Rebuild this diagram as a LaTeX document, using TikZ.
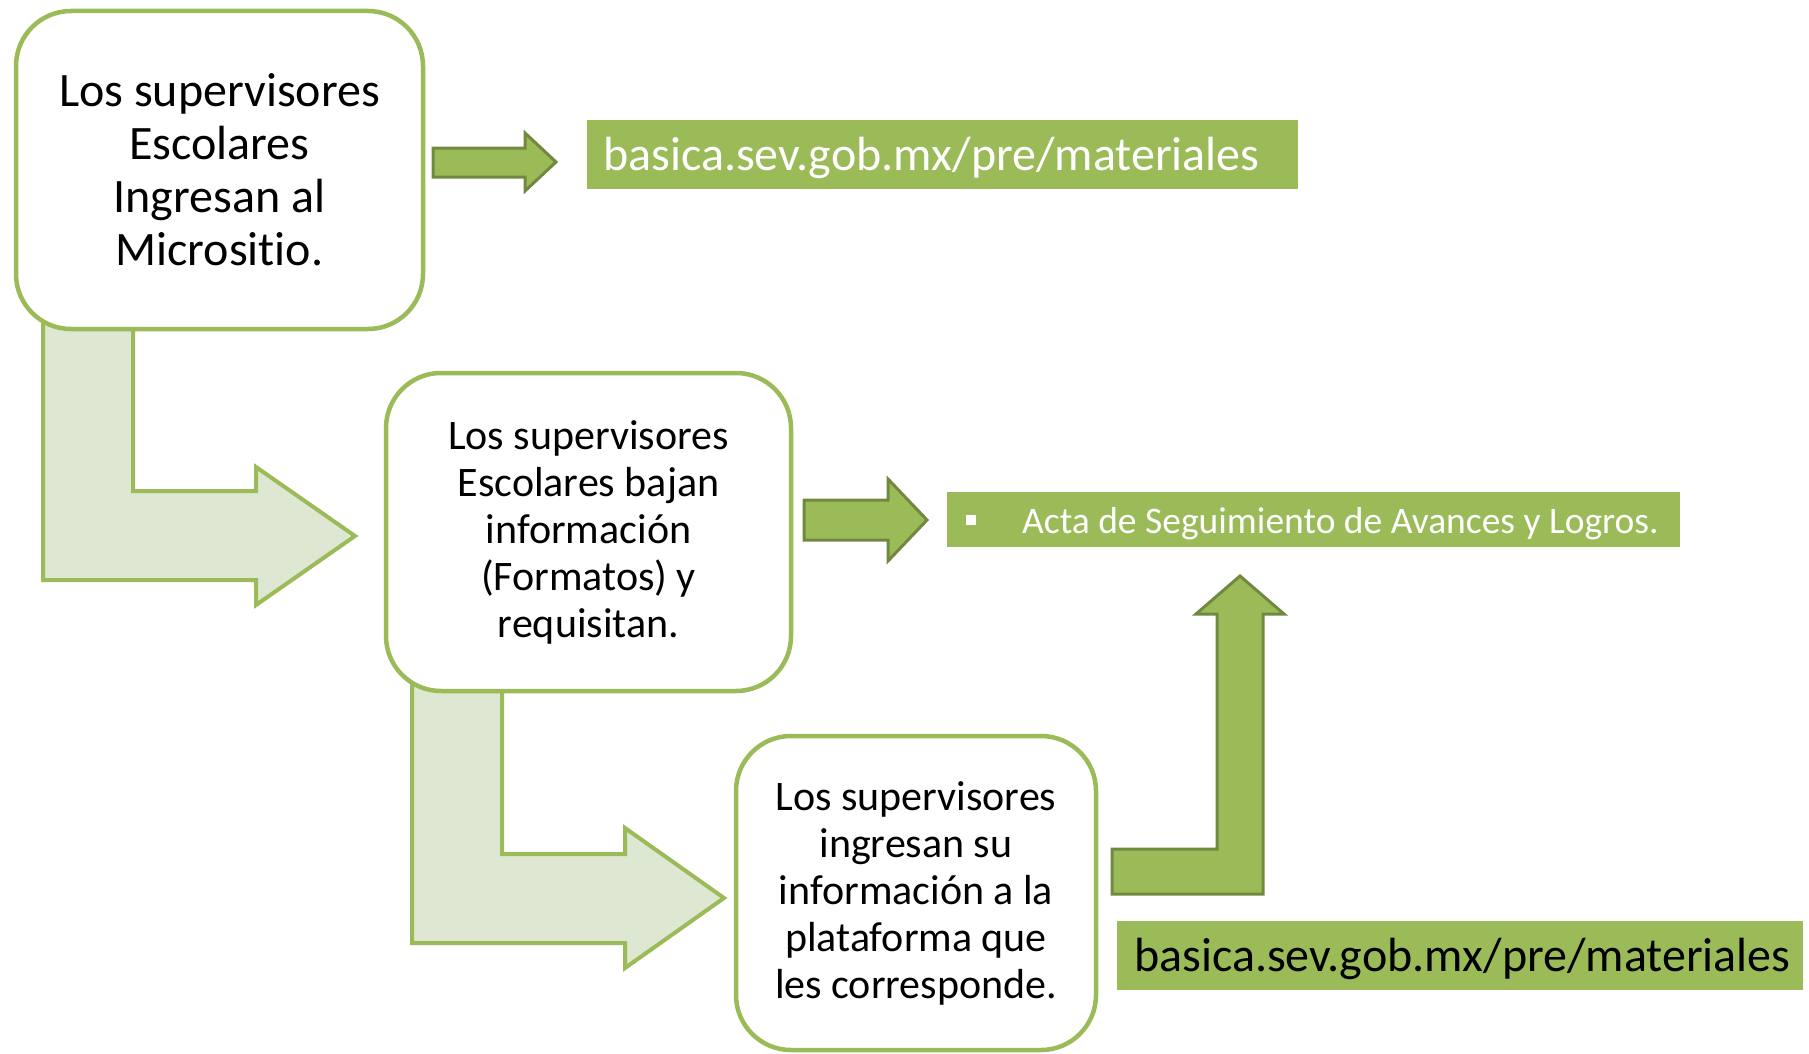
\documentclass[tikz,border=0pt]{standalone}
\usepackage{fontspec}
\setmainfont{Carlito}[Ligatures=NoCommon]
\definecolor{gfill}{HTML}{9BBB59}
\definecolor{gdark}{HTML}{71893F}
\definecolor{glight}{HTML}{DEE7D1}
\begin{document}
\begin{tikzpicture}[x=1pt,y=-1pt,
  stepbox/.style={draw=gfill, line width=4.5pt, fill=white, rounded corners=55pt,
    align=center, inner sep=0pt},
  bigtext/.style={font=\fontsize{48}{53}\selectfont},
  midtext/.style={font=\fontsize{42}{47}\selectfont},
  urlbox/.style={fill=gfill, draw=none, inner sep=0pt,
    font=\fontsize{48}{53}\selectfont, anchor=north west},
  lightarrow/.style={fill=glight, draw=gfill, line width=4pt, line join=miter},
  greenarrow/.style={fill=gfill, draw=gdark, line width=3pt, line join=miter}]
\useasboundingbox (0,0) rectangle (1809,1054);

% light bent arrows (drawn before boxes)
\draw[lightarrow] (43,322) -- (43,580) -- (256,580) -- (256,605) -- (355,536)
  -- (256,467) -- (256,491) -- (133,491) -- (133,322) -- cycle;
\draw[lightarrow] (412,685) -- (412,943) -- (625,943) -- (625,968) -- (724,898)
  -- (625,828) -- (625,854) -- (502,854) -- (502,685) -- cycle;

% boxes
\node[stepbox, bigtext, minimum width=407pt, minimum height=318pt] (b1) at (219.5,170)
  {Los supervisores\\Escolares\\Ingresan al\\Micrositio.};
\node[stepbox, midtext, minimum width=405pt, minimum height=318pt] (b2) at (588.5,532)
  {Los supervisores\\Escolares bajan\\información\\(Formatos) y\\requisitan.};
\node[stepbox, midtext, minimum width=360pt, minimum height=314pt] (b3) at (916,893)
  {Los supervisores\\ingresan su\\información a la\\plataforma que\\les corresponde.};

% green labelled boxes
\node[urlbox, text=white, minimum width=711pt, minimum height=69pt] (u1) at (587,120)
  {\makebox[679pt][l]{\raisebox{-3.5pt}[\height][\depth]{basica.sev.gob.mx/pre/materiales}}};
\node[urlbox, text=black, minimum width=686pt, minimum height=69pt] (u2) at (1117,921)
  {\makebox[652pt][l]{\raisebox{-3.5pt}[\height][\depth]{basica.sev.gob.mx/pre/materiales}}};
\node[fill=gfill, anchor=north west, minimum width=733pt, minimum height=55pt,
  inner sep=0pt, text=white, font=\fontsize{37.5}{44}\selectfont] (acta) at (947,492)
  {\makebox[695pt][l]{\raisebox{-4pt}[\height][\depth]{\raisebox{0.22em}{\rule{10pt}{10pt}}\hspace{46pt}Acta de Seguimiento de Avances y Logros.}}};

% green arrows
\draw[greenarrow] (433,148) -- (525,148) -- (525,133) -- (556,162) -- (525,191)
  -- (525,177) -- (433,177) -- cycle;
\draw[greenarrow] (804,500) -- (888,500) -- (888,479) -- (927,520) -- (888,561)
  -- (888,540) -- (804,540) -- cycle;
\draw[greenarrow] (1112,894) -- (1263,894) -- (1263,614) -- (1284,614) -- (1240,576)
  -- (1196,614) -- (1217,614) -- (1217,849) -- (1112,849) -- cycle;
\end{tikzpicture}
\end{document}
